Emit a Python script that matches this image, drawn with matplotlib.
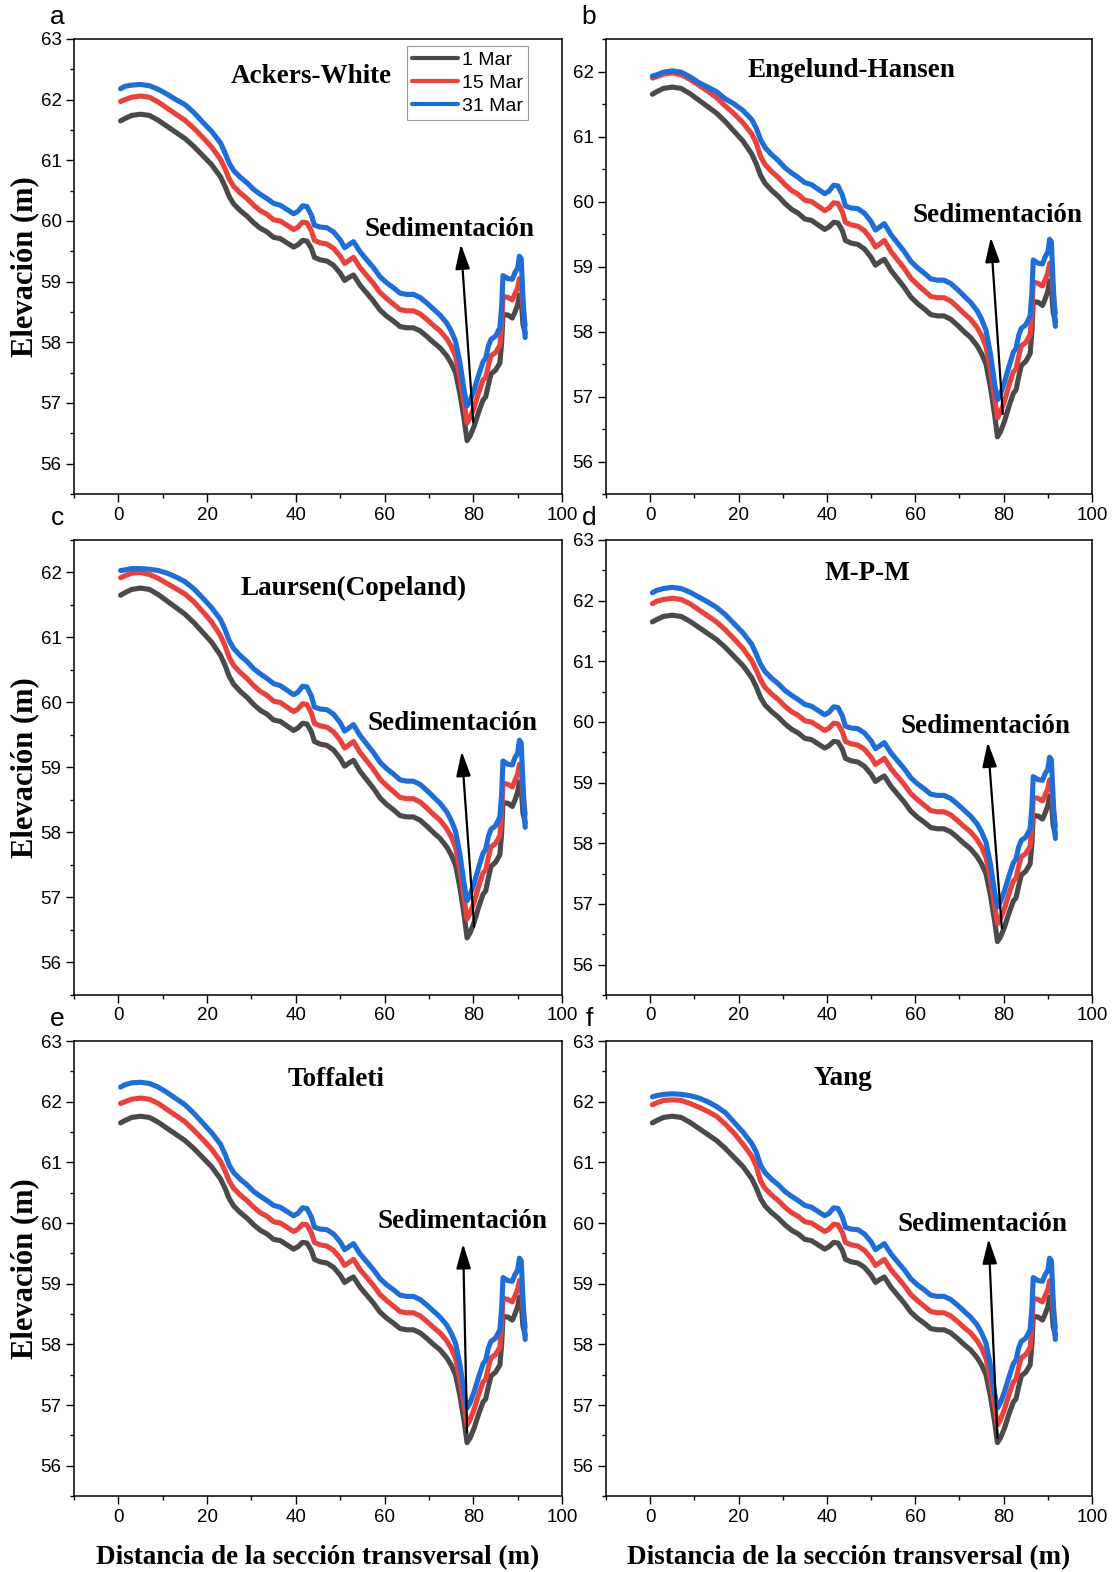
import matplotlib
matplotlib.use('Agg')
import matplotlib.pyplot as plt
from matplotlib.ticker import MultipleLocator

# ---------------- data ----------------
X = [0.5, 1.5, 3, 5, 7, 9, 11, 13, 15, 17, 19, 21, 23, 24,
     25, 26, 27.5, 29, 30.5, 32, 33.5, 35, 36.5, 38, 39.5, 40.5, 41.5, 42.5,
     43.5, 44.2, 45.5, 47, 48.5, 50, 51, 52, 53, 54.5, 56, 57.5, 59, 60.5,
     62, 63.5, 65, 66.5, 68, 69.5, 71, 72.5, 74, 75, 76, 77, 78, 78.6, 79.3,
     80.2, 81.2, 82.2, 82.8, 83.4, 84, 85, 86, 86.4, 86.7, 87.8, 88.8, 89.4,
     90.0, 90.4, 90.8, 91.2, 91.7]

# 1 Mar (initial bed, identical in all panels)
MAR1 = [61.65, 61.69, 61.74, 61.76, 61.74, 61.66, 61.56, 61.46, 61.36, 61.23,
        61.08, 60.93, 60.73, 60.58,
        60.40, 60.28, 60.17, 60.08, 59.97, 59.88, 59.82, 59.73, 59.71, 59.64,
        59.57, 59.61, 59.68, 59.67, 59.55, 59.40, 59.36, 59.34, 59.27, 59.14,
        59.02, 59.07, 59.11, 58.94, 58.81, 58.68, 58.53, 58.43, 58.35, 58.26,
        58.24, 58.24, 58.19, 58.10, 58.00, 57.91, 57.78, 57.66, 57.50, 57.15,
        56.70, 56.38, 56.46, 56.62, 56.85, 57.05, 57.10, 57.30, 57.48, 57.54,
        57.66, 58.00, 58.46, 58.45, 58.40, 58.50, 58.62, 58.78, 58.70, 58.30,
        58.15]

# downstream part (x >= 25) of the 15 Mar and 31 Mar profiles
MAR15_TAIL = [60.69, 60.57, 60.46, 60.37, 60.26, 60.17, 60.11, 60.02, 60.00,
              59.93, 59.86, 59.90, 59.98, 59.97, 59.84, 59.68, 59.64, 59.62,
              59.55, 59.42, 59.30, 59.35, 59.40, 59.23, 59.10, 58.97, 58.82,
              58.72, 58.63, 58.54, 58.52, 58.52, 58.47, 58.38, 58.28, 58.19,
              58.06, 57.94, 57.77, 57.42, 56.97, 56.67, 56.76, 56.93, 57.17,
              57.38, 57.42, 57.62, 57.78, 57.83, 57.95, 58.30, 58.76, 58.74,
              58.70, 58.80, 58.90, 59.05, 59.00, 58.60, 58.28]
MAR31_TAIL = [60.95, 60.83, 60.72, 60.63, 60.52, 60.44, 60.37, 60.29, 60.26,
              60.19, 60.12, 60.16, 60.25, 60.24, 60.10, 59.93, 59.90, 59.89,
              59.82, 59.69, 59.56, 59.61, 59.66, 59.49, 59.36, 59.23, 59.08,
              58.98, 58.90, 58.81, 58.79, 58.79, 58.74, 58.65, 58.55, 58.45,
              58.32, 58.19, 58.02, 57.66, 57.18, 56.95, 57.04, 57.22, 57.46,
              57.68, 57.74, 57.94, 58.05, 58.10, 58.24, 58.60, 59.10, 59.05,
              59.04, 59.15, 59.22, 59.42, 59.38, 58.75, 58.08]

# upstream part (x < 25), per method
MAR15_HEAD_A = [61.97, 62.00, 62.04, 62.06, 62.04, 61.96, 61.86, 61.76, 61.66, 61.53, 61.38, 61.22, 61.02, 60.87]
MAR31_HEAD_A = [62.18, 62.22, 62.24, 62.25, 62.23, 62.17, 62.09, 62.00, 61.92, 61.79, 61.63, 61.48, 61.29, 61.13]
MAR15_HEAD_B = [61.90, 61.92, 61.96, 61.98, 61.95, 61.88, 61.79, 61.70, 61.60, 61.47, 61.35, 61.21, 61.04, 60.90]
MAR31_HEAD_B = [61.93, 61.95, 61.99, 62.01, 61.99, 61.92, 61.83, 61.76, 61.69, 61.58, 61.50, 61.40, 61.26, 61.13]
MAR15_HEAD_C = [61.92, 61.95, 61.99, 62.00, 61.97, 61.91, 61.83, 61.75, 61.67, 61.55, 61.40, 61.24, 61.03, 60.88]
MAR31_HEAD_C = [62.03, 62.04, 62.06, 62.06, 62.05, 62.03, 61.99, 61.93, 61.86, 61.75, 61.61, 61.46, 61.28, 61.13]
MAR15_HEAD_D = [61.95, 61.99, 62.02, 62.04, 62.02, 61.95, 61.85, 61.75, 61.65, 61.52, 61.37, 61.21, 61.01, 60.86]
MAR31_HEAD_D = [62.13, 62.17, 62.20, 62.22, 62.20, 62.14, 62.06, 61.98, 61.89, 61.77, 61.62, 61.47, 61.28, 61.12]
MAR15_HEAD_E = [61.97, 62.00, 62.04, 62.06, 62.04, 61.97, 61.87, 61.77, 61.67, 61.53, 61.38, 61.22, 61.02, 60.87]
MAR31_HEAD_E = [62.24, 62.28, 62.31, 62.32, 62.30, 62.24, 62.15, 62.05, 61.95, 61.81, 61.65, 61.49, 61.30, 61.14]
MAR15_HEAD_F = [61.95, 61.98, 62.02, 62.03, 62.02, 61.97, 61.91, 61.84, 61.76, 61.63, 61.48, 61.30, 61.10, 60.94]
MAR31_HEAD_F = [62.08, 62.10, 62.12, 62.13, 62.12, 62.10, 62.06, 62.00, 61.92, 61.82, 61.66, 61.50, 61.31, 61.17]

PANEL_LETTERS = ['a', 'b', 'c', 'd', 'e', 'f']
METHODS = ['Ackers-White', 'Engelund-Hansen', 'Laursen(Copeland)', 'M-P-M', 'Toffaleti', 'Yang']
SERIES_LABELS = ['1 Mar', '15 Mar', '31 Mar']
YTOP = [63, 62.5, 62.5, 63, 63, 63]
X_TICKS = [0, 20, 40, 60, 80, 100]

# annotation anchors (data coordinates)
TITLE_POS = [(43.6, 62.39), (45.6, 62.01), (53.0, 61.75), (49.1, 62.45), (49.0, 62.36), (43.7, 62.39)]
SED_POS = [(74.6, 59.86), (78.7, 59.78), (75.2, 59.67), (75.9, 59.92), (77.5, 60.03), (75.3, 59.98)]
ARROW_HEAD = [(77.2, 59.62), (77.1, 59.45), (77.4, 59.25), (76.4, 59.67), (77.7, 59.66), (76.6, 59.74)]
ARROW_TAIL = [(80.0, 56.68), (79.8, 56.73), (80.2, 56.55), (79.6, 56.60), (78.6, 56.55), (78.6, 56.46)]

COLORS = ['#4a4a4a', '#e8423f', '#1f6dd6']

heads15 = [MAR15_HEAD_A, MAR15_HEAD_B, MAR15_HEAD_C, MAR15_HEAD_D, MAR15_HEAD_E, MAR15_HEAD_F]
heads31 = [MAR31_HEAD_A, MAR31_HEAD_B, MAR31_HEAD_C, MAR31_HEAD_D, MAR31_HEAD_E, MAR31_HEAD_F]

# ---------------- figure ----------------
plt.rcParams['font.family'] = ['Liberation Sans', 'DejaVu Sans']
SERIF = ['Liberation Serif', 'DejaVu Serif']

W, H = 1115, 1572
fig = plt.figure(figsize=(W / 100, H / 100), dpi=100)

col_left = [74, 606]
col_right = [562, 1092]
row_top = [39, 540, 1041]
row_bot = [494, 995, 1496]

for i in range(6):
    r, c = divmod(i, 2)
    l = col_left[c] / W
    b = 1 - row_bot[r] / H
    w = (col_right[c] - col_left[c]) / W
    h = (row_bot[r] - row_top[r]) / H
    ax = fig.add_axes([l, b, w, h])

    y15 = heads15[i] + MAR15_TAIL
    y31 = heads31[i] + MAR31_TAIL
    for ys, col, lab in zip([MAR1, y15, y31], COLORS, SERIES_LABELS):
        ax.plot(X, ys, color=col, lw=3.7, label=lab, solid_joinstyle='round',
                solid_capstyle='round')

    ax.set_xlim(-10, 100)
    ax.set_ylim(55.5, YTOP[i])
    ax.set_xticks(X_TICKS)
    ax.xaxis.set_minor_locator(MultipleLocator(10))
    ax.yaxis.set_major_locator(MultipleLocator(1))
    ax.yaxis.set_minor_locator(MultipleLocator(0.5))
    ax.tick_params(which='both', direction='out', top=False, right=False,
                   labelsize=13.5, width=1.0, colors='black')
    ax.tick_params(which='major', length=5.5, pad=3.5)
    ax.tick_params(which='minor', length=3)
    for s in ax.spines.values():
        s.set_linewidth(1.1)

    ax.text(*TITLE_POS[i], METHODS[i], ha='center', va='center',
            family=SERIF, weight='bold', fontsize=19.5)
    ax.text(*SED_POS[i], 'Sedimentación', ha='center', va='center',
            family=SERIF, weight='bold', fontsize=19.5)
    ax.annotate('', xy=ARROW_HEAD[i], xytext=ARROW_TAIL[i],
                arrowprops=dict(arrowstyle='-|>,head_length=0.75,head_width=0.22',
                                color='black', lw=1.6, shrinkA=0, shrinkB=0,
                                mutation_scale=20))

    if c == 0:
        ax.set_ylabel('Elevación (m)', family=SERIF, weight='bold',
                      fontsize=22, labelpad=1)
    if r == 2:
        ax.set_xlabel('Distancia de la sección transversal (m)', family=SERIF,
                      weight='bold', fontsize=19.5, labelpad=14)

    if i == 0:
        leg = ax.legend(loc='upper left', bbox_to_anchor=(0.682, 0.984),
                        fontsize=14, handlelength=2.4, handletextpad=0.2,
                        labelspacing=0.28, borderpad=0.25, borderaxespad=0,
                        fancybox=False, framealpha=1, edgecolor='#9a9a9a')
        leg.get_frame().set_linewidth(0.8)
        for ln in leg.get_lines():
            ln.set_linewidth(3.0)

    # panel letter
    fig.text((col_left[c] - 17) / W, 1 - (row_top[r] - 22) / H, PANEL_LETTERS[i],
             ha='center', va='center', fontsize=19)

fig.savefig('out.png', dpi=100)
